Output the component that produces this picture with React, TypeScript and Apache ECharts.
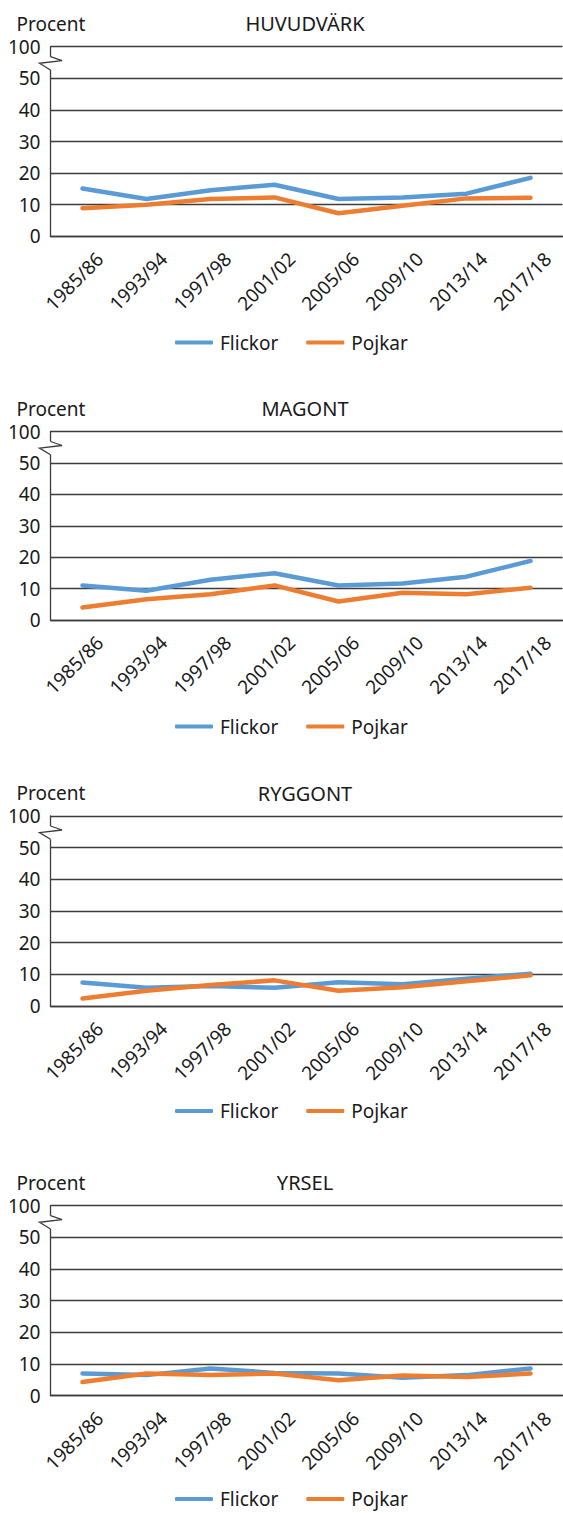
import React, { useEffect, useRef } from "react";
import * as echarts from "echarts";

const categories = ["1985/86", "1993/94", "1997/98", "2001/02", "2005/06", "2009/10", "2013/14", "2017/18"];
const yTickLabels = ["0", "10", "20", "30", "40", "50", "100"];
const panelTitles = ["HUVUDVÄRK", "MAGONT", "RYGGONT", "YRSEL"];
const seriesNames = ["Flickor", "Pojkar"];

const flickorHuvudvark = [15.1, 11.8, 14.6, 16.3, 11.8, 12.3, 13.5, 18.5];
const pojkarHuvudvark = [8.9, 10.0, 11.8, 12.3, 7.3, 9.7, 12.0, 12.2];
const flickorMagont = [11.0, 9.3, 12.8, 14.9, 11.0, 11.6, 13.8, 18.8];
const pojkarMagont = [4.0, 6.6, 8.2, 11.0, 5.9, 8.7, 8.2, 10.3];
const flickorRyggont = [7.4, 5.8, 6.3, 5.8, 7.5, 6.9, 8.6, 10.2];
const pojkarRyggont = [2.4, 4.8, 6.6, 8.1, 4.8, 5.9, 7.8, 9.7];
const flickorYrsel = [7.0, 6.5, 8.6, 7.2, 7.0, 5.7, 6.5, 8.6];
const pojkarYrsel = [4.3, 7.0, 6.5, 7.0, 4.9, 6.4, 5.9, 7.0];

const panelData = [
  [flickorHuvudvark, pojkarHuvudvark],
  [flickorMagont, pojkarMagont],
  [flickorRyggont, pojkarRyggont],
  [flickorYrsel, pojkarYrsel],
];

const COLORS = ["#5B9BD5", "#ED7D31"];
const TEXT = "#1a1a1a";
const GRIDC = "#3c3c3c";
const FONT = "'Noto Sans', 'Open Sans', sans-serif";
const FS = 19;
const TITLE_FS = 20;

const tops = [46.7, 431.5, 816, 1205.7];
const bottoms = [236.3, 620, 1006, 1395.7];
const legendCenters = [342.5, 726.5, 1111, 1499];
const AXIS_X = 50.5;

export default function App() {
  const ref = useRef<HTMLDivElement>(null);
  useEffect(() => {
    if (!ref.current) return;
    const chart = echarts.init(ref.current, undefined, { renderer: "svg" });
    const grid: any[] = [];
    const xAxis: any[] = [];
    const yAxis: any[] = [];
    const series: any[] = [];
    const legend: any[] = [];
    const graphic: any[] = [];
    panelData.forEach((pair, k) => {
      grid.push({ left: AXIS_X, right: 0.5, top: tops[k], height: bottoms[k] - tops[k], containLabel: false });
      xAxis.push({
        type: "category",
        gridIndex: k,
        data: categories,
        boundaryGap: true,
        axisLine: { show: true, lineStyle: { color: GRIDC, width: 1.3 } },
        axisTick: { show: false },
        axisLabel: {
          rotate: 45,
          interval: 0,
          color: TEXT,
          fontSize: FS,
          fontFamily: FONT,
          verticalAlign: "top",
          margin: 2,
          padding: [15, 0, 0, 0],
        },
      });
      yAxis.push({
        type: "value",
        gridIndex: k,
        min: 0,
        max: 60,
        interval: 10,
        axisLine: { show: true, lineStyle: { color: GRIDC, width: 1.3 } },
        axisTick: { show: false },
        splitLine: { show: true, lineStyle: { color: GRIDC, width: 1.3 } },
        axisLabel: {
          color: TEXT,
          fontSize: FS,
          fontFamily: FONT,
          margin: 10,
          formatter: (v: number) => yTickLabels[Math.round(v / 10)],
        },
      });
      pair.forEach((vals, s) => {
        series.push({
          type: "line",
          name: seriesNames[s],
          xAxisIndex: k,
          yAxisIndex: k,
          data: vals,
          symbol: "none",
          color: COLORS[s],
          lineStyle: { width: 4.5, color: COLORS[s], cap: "round", join: "round" },
        });
      });
      legend.push({
        data: seriesNames,
        left: 175,
        top: legendCenters[k] - 10,
        padding: 0,
        itemWidth: 38,
        itemHeight: 4,
        itemGap: 28,
        icon: "roundRect",
        selectedMode: false,
        textStyle: { color: TEXT, fontSize: FS, fontFamily: FONT, lineHeight: 20, padding: [0, 0, 0, 2] },
      });
      const t = tops[k];
      graphic.push(
        {
          type: "text",
          x: 16.5,
          y: t - 23,
          style: { text: "Procent", fontSize: FS, fontFamily: FONT, fill: TEXT, textVerticalAlign: "middle" },
        },
        {
          type: "text",
          x: 305,
          y: t - 23,
          style: {
            text: panelTitles[k],
            fontSize: TITLE_FS,
            fontFamily: FONT,
            fill: TEXT,
            textAlign: "center",
            textVerticalAlign: "middle",
          },
        },
        {
          type: "rect",
          shape: { x: AXIS_X - 3, y: t + 10, width: 6, height: 13.3 },
          style: { fill: "#ffffff" },
          z: 100,
        },
        {
          type: "polyline",
          shape: {
            points: [
              [AXIS_X, t + 10],
              [AXIS_X + 11.5, t + 14],
              [AXIS_X - 11, t + 16.6],
              [AXIS_X, t + 23.3],
            ],
          },
          style: { stroke: GRIDC, lineWidth: 1.3, fill: "none" },
          z: 101,
        }
      );
    });
    chart.setOption({
      animation: false,
      backgroundColor: "#ffffff",
      grid,
      xAxis,
      yAxis,
      series,
      legend,
      graphic,
    });
    return () => chart.dispose();
  }, []);
  return <div ref={ref} style={{ position: "absolute", left: 0, top: 0, width: 563, height: 1513 }} />;
}
